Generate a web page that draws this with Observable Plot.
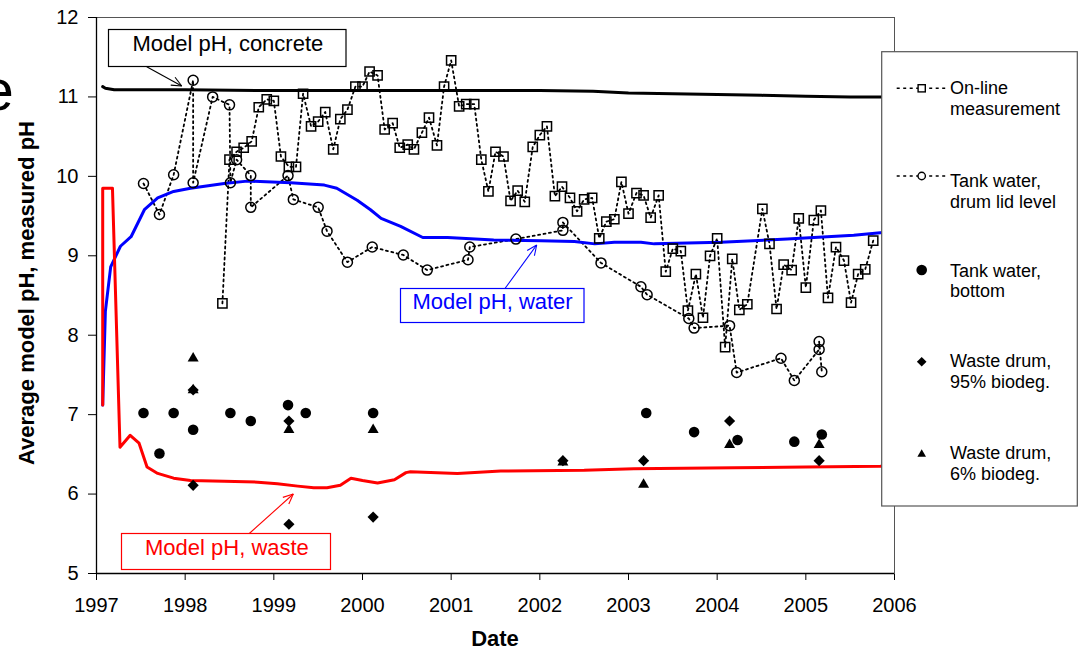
<!DOCTYPE html>
<html>
<head>
<meta charset="utf-8">
<script src="https://cdn.jsdelivr.net/npm/d3@7"></script>
<script src="https://cdn.jsdelivr.net/npm/@observablehq/plot@0.6"></script>
<style>
  body { margin: 0; background: #fff; }
  svg { display: block; }
</style>
</head>
<body>
<div id="chart"></div>
<script>
// ---------- tick labels ----------
const xTicks = [1997, 1998, 1999, 2000, 2001, 2002, 2003, 2004, 2005, 2006];
const yTicks = [5, 6, 7, 8, 9, 10, 11, 12];

// ---------- model lines ----------
const concreteX = [1997.07, 1997.1, 1997.2, 1998, 1999, 2000, 2001, 2002, 2002.6, 2003, 2003.5, 2004, 2004.5, 2005, 2005.5, 2006];
const concreteY = [11.13, 11.11, 11.09, 11.09, 11.08, 11.08, 11.08, 11.08, 11.07, 11.05, 11.04, 11.03, 11.02, 11.01, 11.0, 11.0];

const waterX = [1997.07, 1997.1, 1997.16, 1997.27, 1997.39, 1997.54, 1997.69, 1997.87, 1998.06, 1998.44, 1998.7, 1999.19, 1999.57, 1999.71, 1999.94, 2000.09, 2000.21, 2000.43, 2000.68, 2000.96, 2001.48, 2002.01, 2002.39, 2002.62, 2002.84, 2003.14, 2003.29, 2004.04, 2004.79, 2005.54, 2005.84, 2006];
const waterY = [7.12, 8.3, 8.86, 9.12, 9.24, 9.58, 9.73, 9.81, 9.85, 9.91, 9.94, 9.92, 9.89, 9.85, 9.70, 9.58, 9.47, 9.37, 9.23, 9.23, 9.20, 9.19, 9.18, 9.15, 9.17, 9.17, 9.15, 9.17, 9.21, 9.26, 9.29, 9.30];

const wasteX = [1997.07, 1997.07, 1997.18, 1997.265, 1997.38, 1997.48, 1997.57, 1997.69, 1997.87, 1998.06, 1998.44, 1998.82, 1999.04, 1999.27, 1999.45, 1999.6, 1999.75, 1999.87, 2000.0, 2000.17, 2000.36, 2000.49, 2000.54, 2001.07, 2001.56, 2002.5, 2003.06, 2004.19, 2005.0, 2005.84, 2006];
const wasteY = [7.12, 9.85, 9.85, 6.59, 6.74, 6.64, 6.34, 6.26, 6.20, 6.17, 6.16, 6.15, 6.13, 6.10, 6.08, 6.08, 6.11, 6.20, 6.17, 6.14, 6.18, 6.27, 6.28, 6.26, 6.29, 6.30, 6.32, 6.33, 6.34, 6.35, 6.36];

// ---------- On-line measurement (open squares) ----------
const onlineX = [1998.42, 1998.50, 1998.58, 1998.66, 1998.75, 1998.83, 1998.92, 1999.00, 1999.08, 1999.17, 1999.25, 1999.33, 1999.42, 1999.50, 1999.58, 1999.67, 1999.75, 1999.83, 1999.92, 2000.00, 2000.08, 2000.17, 2000.25, 2000.34, 2000.42, 2000.51, 2000.58, 2000.67, 2000.75, 2000.84, 2000.92, 2001.00, 2001.09, 2001.17, 2001.26, 2001.34, 2001.42, 2001.50, 2001.59, 2001.67, 2001.75, 2001.83, 2001.92, 2002.00, 2002.08, 2002.17, 2002.25, 2002.34, 2002.42, 2002.50, 2002.59, 2002.67, 2002.75, 2002.84, 2002.92, 2003.00, 2003.09, 2003.17, 2003.25, 2003.34, 2003.42, 2003.50, 2003.59, 2003.67, 2003.76, 2003.84, 2003.92, 2004.00, 2004.09, 2004.17, 2004.25, 2004.34, 2004.51, 2004.59, 2004.67, 2004.75, 2004.84, 2004.92, 2005.00, 2005.09, 2005.17, 2005.25, 2005.34, 2005.43, 2005.51, 2005.59, 2005.67, 2005.76];
const onlineY = [8.40, 10.21, 10.31, 10.36, 10.44, 10.87, 10.97, 10.95, 10.25, 10.12, 10.12, 11.04, 10.63, 10.69, 10.81, 10.34, 10.72, 10.84, 11.13, 11.13, 11.32, 11.27, 10.59, 10.67, 10.36, 10.40, 10.34, 10.55, 10.74, 10.39, 11.13, 11.46, 10.88, 10.91, 10.91, 10.21, 9.81, 10.31, 10.25, 9.69, 9.82, 9.68, 10.37, 10.52, 10.63, 9.75, 9.87, 9.73, 9.56, 9.71, 9.73, 9.22, 9.43, 9.46, 9.93, 9.53, 9.79, 9.76, 9.48, 9.76, 8.80, 9.09, 9.06, 8.31, 8.77, 8.22, 9.00, 9.22, 7.85, 8.96, 8.32, 8.39, 9.59, 9.15, 8.33, 8.89, 8.82, 9.47, 8.60, 9.45, 9.57, 8.47, 9.11, 8.94, 8.41, 8.77, 8.83, 9.19];

// ---------- Tank water, drum lid level (open circles) ----------
const lidX = [1997.53, 1997.71, 1997.87, 1998.09, 1998.09, 1998.31, 1998.50, 1998.51, 1998.58, 1998.74, 1998.74, 1999.16, 1999.22, 1999.50, 1999.60, 1999.83, 2000.11, 2000.46, 2000.73, 2001.19, 2001.21, 2001.73, 2002.26, 2002.26, 2002.69, 2003.14, 2003.21, 2003.68, 2003.74, 2004.14, 2004.22, 2004.72, 2004.87, 2005.15, 2005.15, 2005.18];
const lidY = [9.91, 9.52, 10.02, 11.21, 9.92, 11.0, 10.90, 9.92, 10.21, 10.01, 9.61, 10.01, 9.71, 9.61, 9.31, 8.92, 9.11, 9.01, 8.82, 8.95, 9.11, 9.21, 9.32, 9.42, 8.91, 8.61, 8.51, 8.21, 8.09, 8.12, 7.53, 7.71, 7.43, 7.82, 7.92, 7.54];

// ---------- Tank water, bottom (filled circles) ----------
const bottomX = [1997.53, 1997.71, 1997.87, 1998.09, 1998.51, 1998.74, 1999.16, 1999.36, 2000.12, 2003.20, 2003.74, 2004.23, 2004.87, 2005.18];
const bottomY = [7.02, 6.51, 7.02, 6.81, 7.02, 6.92, 7.12, 7.02, 7.02, 7.02, 6.78, 6.68, 6.66, 6.75];

// ---------- Waste drum, 95% biodeg. (diamonds) ----------
const drum95X = [1998.09, 1998.09, 1999.17, 1999.17, 2000.12, 2002.26, 2003.17, 2004.14, 2005.15];
const drum95Y = [7.31, 6.11, 6.92, 5.62, 5.71, 6.42, 6.42, 6.92, 6.42];

// ---------- Waste drum, 6% biodeg. (triangles) ----------
const drum6X = [1998.09, 1998.09, 1999.17, 2000.12, 2002.26, 2003.17, 2004.14, 2005.15];
const drum6Y = [7.71, 7.31, 6.81, 6.81, 6.40, 6.12, 6.62, 6.62];

// ---------- legend / annotation texts ----------
const legendLabels = [
  ["On-line", "measurement"],
  ["Tank water,", "drum lid level"],
  ["Tank water,", "bottom"],
  ["Waste drum,", "95% biodeg."],
  ["Waste drum,", "6% biodeg."]
];
const yTitle = "Average model pH, measured pH";
const xTitle = "Date";
const labelConcrete = "Model pH, concrete";
const labelWater = "Model pH, water";
const labelWaste = "Model pH, waste";

// ---------- build tables ----------
const zip = (xs, ys) => xs.map((x, i) => ({x, y: ys[i]}));
const concrete = zip(concreteX, concreteY);
const water = zip(waterX, waterY);
const waste = zip(wasteX, wasteY);
const online = zip(onlineX, onlineY);
const lid = zip(lidX, lidY);
const bottom = zip(bottomX, bottomY);
const drum95 = zip(drum95X, drum95Y);
const drum6 = zip(drum6X, drum6Y);

// custom symbols: r maps to half-width
const diamondSym = {draw(ctx, size) {
  const r = Math.sqrt(size / Math.PI);
  ctx.moveTo(0, -r); ctx.lineTo(r, 0); ctx.lineTo(0, r); ctx.lineTo(-r, 0); ctx.closePath();
}};
const triangleSym = {draw(ctx, size) {
  const r = Math.sqrt(size / Math.PI);
  const h = Math.sqrt(3) * r;
  ctx.moveTo(0, -2 * h / 3); ctx.lineTo(r, h / 3); ctx.lineTo(-r, h / 3); ctx.closePath();
}};

const FONT = "'Liberation Sans', Arial, sans-serif";
const DASH = "2,3.5";

const plot = Plot.plot({
  width: 1080,
  height: 649,
  marginLeft: 96,
  marginRight: 186,
  marginTop: 17,
  marginBottom: 76,
  style: {fontFamily: FONT, fontSize: "20px", color: "black", background: "white", overflow: "visible"},
  x: {domain: [1997, 2006], ticks: xTicks, tickFormat: d => String(d), label: null, tickSize: 7, tickPadding: 17},
  y: {domain: [5, 12], ticks: yTicks, tickFormat: d => String(d), label: null, tickSize: 8, tickPadding: 10},
  marks: [
    Plot.frame({stroke: "#555", strokeWidth: 1}),
    Plot.ruleX([1997], {stroke: "black", strokeWidth: 1.3}),
    Plot.ruleY([5], {stroke: "black", strokeWidth: 1.3}),
    Plot.line(online, {x: "x", y: "y", stroke: "black", strokeWidth: 1.8, strokeDasharray: DASH}),
    Plot.line(lid, {x: "x", y: "y", stroke: "black", strokeWidth: 1.8, strokeDasharray: DASH}),
    Plot.line(concrete, {x: "x", y: "y", stroke: "black", strokeWidth: 3}),
    Plot.line(water, {x: "x", y: "y", stroke: "#0000ff", strokeWidth: 3}),
    Plot.line(waste, {x: "x", y: "y", stroke: "#ff0000", strokeWidth: 3}),
    Plot.dot(online, {x: "x", y: "y", symbol: "square", r: 5.2, fill: "none", stroke: "black", strokeWidth: 1.5}),
    Plot.dot(lid, {x: "x", y: "y", symbol: "circle", r: 5, fill: "none", stroke: "black", strokeWidth: 1.5}),
    Plot.dot(bottom, {x: "x", y: "y", symbol: "circle", r: 5.3, fill: "black", stroke: "none"}),
    Plot.dot(drum6, {x: "x", y: "y", symbol: triangleSym, r: 5.5, fill: "black", stroke: "none"}),
    Plot.dot(drum95, {x: "x", y: "y", symbol: diamondSym, r: 5.6, fill: "black", stroke: "none"})
  ]
});

document.getElementById("chart").appendChild(plot);

const svg = d3.select(plot);
svg.selectAll('g[aria-label*="axis"]').style("font-size", "20px").style("font-family", FONT);

const overlay = svg.append("g").attr("font-family", FONT).attr("text-anchor", "start");

function arrow(g, x1, y1, x2, y2, color) {
  g.append("line").attr("x1", x1).attr("y1", y1).attr("x2", x2).attr("y2", y2)
    .attr("stroke", color).attr("stroke-width", 1.1);
  const a = Math.atan2(y2 - y1, x2 - x1);
  const L = 11, s = 0.42;
  [a + Math.PI - s, a + Math.PI + s].forEach(b => {
    g.append("line").attr("x1", x2).attr("y1", y2)
      .attr("x2", x2 + L * Math.cos(b)).attr("y2", y2 + L * Math.sin(b))
      .attr("stroke", color).attr("stroke-width", 1.1);
  });
}

function labelBox(g, x, y, w, h, color, text, tx, ty) {
  g.append("rect").attr("x", x).attr("y", y).attr("width", w).attr("height", h)
    .attr("fill", "white").attr("stroke", color).attr("stroke-width", 1.2);
  g.append("text").attr("x", tx).attr("y", ty).attr("fill", color)
    .attr("text-anchor", "start").attr("font-size", 22).text(text);
}

// annotations
labelBox(overlay, 108.5, 29.5, 237.5, 37, "black", labelConcrete, 132.5, 50.5);
arrow(overlay, 146.7, 66.7, 181.7, 86, "black");
labelBox(overlay, 400.5, 288.5, 183.5, 34, "#0000ff", labelWater, 412.5, 308.5);
arrow(overlay, 505, 288.5, 536.7, 245, "#0000ff");
labelBox(overlay, 121.5, 533.5, 209, 36, "#ff0000", labelWaste, 145, 554.5);
arrow(overlay, 249.3, 533.5, 293.3, 494, "#ff0000");

// axis titles
overlay.append("text").attr("transform", "translate(34,293) rotate(-90)")
  .attr("text-anchor", "middle").attr("font-weight", "bold").attr("font-size", 22)
  .attr("fill", "black").text(yTitle);
overlay.append("text").attr("x", 495).attr("y", 646)
  .attr("text-anchor", "middle").attr("font-weight", "bold").attr("font-size", 22)
  .attr("fill", "black").text(xTitle);

// partial panel letter at the far left edge (clipped as in the reference)
overlay.append("text").attr("x", -18.5).attr("y", 110).attr("font-size", 58)
  .attr("text-anchor", "start").attr("fill", "black").text("e");

// legend
const lg = overlay.append("g");
lg.append("rect").attr("x", 881.7).attr("y", 51.7).attr("width", 195.6).attr("height", 454.3)
  .attr("fill", "white").attr("stroke", "#555").attr("stroke-width", 1.2);
const symX = 921.7, textX = 950;
const symYs = [88.3, 176, 270, 361.7, 454.3];
const base1 = [94, 187, 276.7, 367, 459];
legendLabels.forEach((lines, i) => {
  const sy = symYs[i];
  if (i < 2) {
    lg.append("line").attr("x1", 896.7).attr("x2", 947.3).attr("y1", sy).attr("y2", sy)
      .attr("stroke", "black").attr("stroke-width", 1.6).attr("stroke-dasharray", "3,3.5");
  }
  if (i === 0) {
    lg.append("rect").attr("x", symX - 3.6).attr("y", sy - 3.6).attr("width", 7.2).attr("height", 7.2)
      .attr("fill", "white").attr("stroke", "black").attr("stroke-width", 1.4);
  } else if (i === 1) {
    lg.append("circle").attr("cx", symX).attr("cy", sy).attr("r", 3.7)
      .attr("fill", "white").attr("stroke", "black").attr("stroke-width", 1.4);
  } else if (i === 2) {
    lg.append("circle").attr("cx", symX).attr("cy", sy).attr("r", 5.3).attr("fill", "black");
  } else if (i === 3) {
    const r = 4.8;
    lg.append("path").attr("d", `M${symX},${sy - r}L${symX + r},${sy}L${symX},${sy + r}L${symX - r},${sy}Z`).attr("fill", "black");
  } else {
    const r = 4.3, h = Math.sqrt(3) * r;
    lg.append("path").attr("d", `M${symX},${sy - 2 * h / 3}L${symX + r},${sy + h / 3}L${symX - r},${sy + h / 3}Z`).attr("fill", "black");
  }
  lines.forEach((t, j) => {
    lg.append("text").attr("x", textX).attr("y", base1[i] + j * 20.5)
      .attr("text-anchor", "start").attr("font-size", 18).attr("fill", "black").text(t);
  });
});
</script>
</body>
</html>
